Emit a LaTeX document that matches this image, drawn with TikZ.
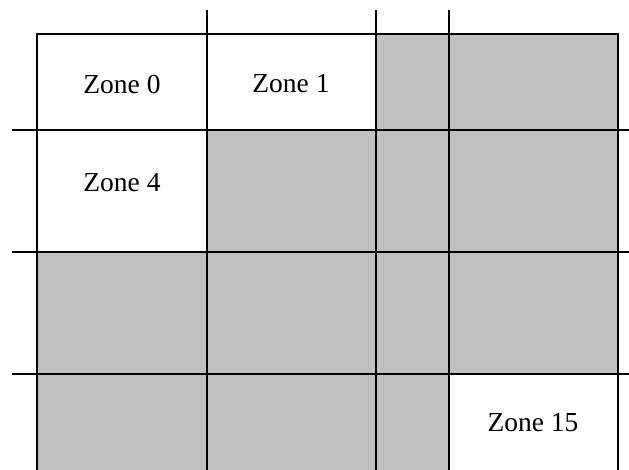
\documentclass[tikz,border=0pt]{standalone}
\usepackage{fontspec}
\setmainfont{Liberation Serif}
\definecolor{zonegray}{RGB}{192,192,192}

\begin{document}
\begin{tikzpicture}[x=1pt,y=-1pt]
\useasboundingbox (0,0) rectangle (629,470);
\tikzset{gridline/.style={line width=2pt, black},
         zonelabel/.style={font=\fontsize{27.5}{33}\selectfont, inner sep=0pt}}
% shaded zones
\fill[zonegray] (376,34) rectangle (618,130);
\fill[zonegray] (207,130) rectangle (618,252);
\fill[zonegray] (37,252) rectangle (618,374);
\fill[zonegray] (37,374) rectangle (449,470);
% outline
\draw[gridline] (37,470) -- (37,34) -- (618,34) -- (618,470);
% grid lines
\foreach \xx in {207,376,449}
  \draw[gridline] (\xx,10) -- (\xx,470);
\foreach \yy in {130,252,374}
  \draw[gridline] (12,\yy) -- (629,\yy);
% labels
\node[zonelabel] (zone0)  at (122,84)  {Zone 0};
\node[zonelabel] (zone1)  at (291,84)  {Zone 1};
\node[zonelabel] (zone4)  at (122,183) {Zone 4};
\node[zonelabel] (zone15) at (533,423) {Zone 15};
\end{tikzpicture}
\end{document}
